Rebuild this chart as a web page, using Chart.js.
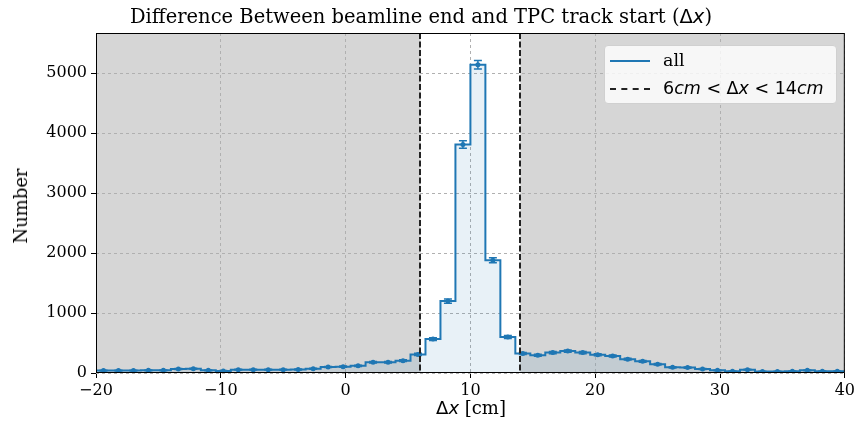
<!DOCTYPE html>
<html>
<head>
<meta charset="utf-8">
<script src="https://cdn.jsdelivr.net/npm/chart.js@4.4.0/dist/chart.umd.min.js"></script>
<style>
    html, body { margin: 0; padding: 0; background: #ffffff; }
    #wrap { position: relative; width: 858px; height: 425px; }
    #chart { position: absolute; left: 0; top: 0; }
    .serif { font-family: 'DejaVu Serif', serif; color: #000; position: absolute; white-space: nowrap; }
    .math { font-family: 'DejaVu Sans', sans-serif; }
    .math i { font-style: italic; }
    #title { left: 0; width: 842px; top: 5px; text-align: center; font-size: 19.5px; line-height: 24px; }
    #xlabel { left: 96px; width: 750px; top: 397px; text-align: center; font-size: 18px; line-height: 22px; }
    #ylabel { left: 21px; top: 206px; font-size: 18px; line-height: 22px; transform: translate(-50%, -50%) rotate(-90deg); }
    #legend {
        position: absolute; left: 604px; top: 45px; width: 233px; height: 59px;
        background: rgba(255, 255, 255, 0.8); border: 1px solid #d0d0d0; border-radius: 4px;
        box-sizing: border-box;
    }
    .row { position: absolute; left: 0; height: 24px; width: 100%; }
    .sample { position: absolute; left: 5px; top: 11px; width: 40px; height: 0; }
    .label { position: absolute; left: 58px; top: 0px; font-size: 17.5px; line-height: 22px; }
</style>
</head>
<body>
<div id="wrap">
    <canvas id="chart" width="858" height="425"></canvas>
    <div id="title" class="serif">Difference Between beamline end and TPC track start (<span class="math">Δ<i>x</i></span>)</div>
    <div id="xlabel" class="serif"><span class="math">Δ<i>x</i></span> [cm]</div>
    <div id="ylabel" class="serif">Number</div>
    <div id="legend">
        <div class="row" style="top: 3px;">
            <div class="sample" style="border-top: 2px solid #1f77b4;"></div>
            <div class="label serif">all</div>
        </div>
        <div class="row" style="top: 31px;">
            <div class="sample" style="border-top: 2px dashed #222;"></div>
            <div class="label math">6<i>cm</i> &lt; Δ<i>x</i> &lt; 14<i>cm</i></div>
        </div>
    </div>
</div>
<script>
(function () {
    'use strict';

    // Histogram binning (cm)
    const BIN_LO = -20;
    const BIN_WIDTH = 1.2;

    // Counts per bin
    const counts = [
        40, 40, 40, 45, 45, 65, 70, 45, 35, 55,
        55, 55, 55, 60, 70, 100, 105, 120, 180, 180,
        205, 310, 565, 1200, 3810, 5140, 1880, 600, 325, 295,
        340, 365, 340, 305, 285, 230, 195, 145, 95, 90,
        65, 45, 30, 55, 25, 25, 30, 45, 30, 30
    ];

    // Error bar half lengths per bin
    const errors = [
        6, 6, 6, 7, 7, 8, 8, 7, 6, 7,
        7, 7, 7, 8, 8, 10, 10, 11, 13, 13,
        14, 18, 24, 35, 62, 72, 43, 24, 18, 17,
        18, 19, 18, 17, 17, 15, 14, 12, 10, 9,
        8, 7, 5, 7, 5, 5, 5, 7, 5, 5
    ];

    // Selection window and axis ticks
    const CUT_LO = 6;
    const CUT_HI = 14;
    const xTicks = [-20, -10, 0, 10, 20, 30, 40];
    const yTicks = [0, 1000, 2000, 3000, 4000, 5000];
    const X_MIN = -20, X_MAX = 40, Y_MAX = 5670;

    const BLUE = '#1f77b4';

    // Step outline: one point per left bin edge, plus the closing right edge
    const stepData = counts.map((c, i) => ({ x: BIN_LO + i * BIN_WIDTH, y: c }));
    stepData.push({ x: BIN_LO + counts.length * BIN_WIDTH, y: counts[counts.length - 1] });

    const centerData = counts.map((c, i) => ({ x: BIN_LO + (i + 0.5) * BIN_WIDTH, y: c }));

    const decorPlugin = {
        id: 'decor',
        beforeDraw(chart) {
            const { ctx, chartArea: a, scales: { x } } = chart;
            ctx.save();
            ctx.fillStyle = '#ffffff';
            ctx.fillRect(0, 0, chart.width, chart.height);
            ctx.fillStyle = '#d6d6d6';
            const x1 = x.getPixelForValue(CUT_LO);
            const x2 = x.getPixelForValue(CUT_HI);
            ctx.fillRect(a.left, a.top, x1 - a.left, a.bottom - a.top);
            ctx.fillRect(x2, a.top, a.right - x2, a.bottom - a.top);
            ctx.restore();
        },
        afterDatasetsDraw(chart) {
            const { ctx, chartArea: a, scales: { x, y } } = chart;
            ctx.save();
            // error bars
            ctx.strokeStyle = BLUE;
            ctx.lineWidth = 1.5;
            centerData.forEach((p, i) => {
                const px = x.getPixelForValue(p.x);
                const yHi = y.getPixelForValue(p.y + errors[i]);
                const yLo = y.getPixelForValue(p.y - errors[i]);
                ctx.beginPath();
                ctx.moveTo(px, yHi);
                ctx.lineTo(px, yLo);
                ctx.moveTo(px - 4, yHi);
                ctx.lineTo(px + 4, yHi);
                ctx.moveTo(px - 4, yLo);
                ctx.lineTo(px + 4, yLo);
                ctx.stroke();
            });
            // selection window lines
            ctx.strokeStyle = '#222222';
            ctx.lineWidth = 2;
            ctx.setLineDash([6, 2.5]);
            [CUT_LO, CUT_HI].forEach(v => {
                const px = Math.round(x.getPixelForValue(v));
                ctx.beginPath();
                ctx.moveTo(px, a.top);
                ctx.lineTo(px, a.bottom);
                ctx.stroke();
            });
            ctx.restore();
        },
        afterDraw(chart) {
            const { ctx, chartArea: a } = chart;
            ctx.save();
            ctx.strokeStyle = '#000000';
            ctx.lineWidth = 1;
            ctx.strokeRect(a.left + 0.5, a.top + 0.5, a.right - a.left - 1, a.bottom - a.top - 1);
            ctx.restore();
        }
    };

    const tickFont = { family: "'DejaVu Serif', serif", size: 16 };

    new Chart(document.getElementById('chart'), {
        type: 'line',
        data: {
            datasets: [
                {
                    label: 'markers',
                    type: 'scatter',
                    data: centerData,
                    pointRadius: 2.5,
                    pointBackgroundColor: BLUE,
                    pointBorderWidth: 0,
                    showLine: false
                },
                {
                    label: 'all',
                    data: stepData,
                    stepped: true,
                    borderColor: BLUE,
                    borderWidth: 2,
                    backgroundColor: 'rgba(31, 119, 180, 0.1)',
                    fill: 'origin',
                    pointRadius: 0
                }
            ]
        },
        options: {
            responsive: false,
            animation: false,
            layout: { padding: { left: 0, right: 12, top: 33, bottom: 0 } },
            plugins: {
                legend: { display: false },
                tooltip: { enabled: false }
            },
            scales: {
                x: {
                    type: 'linear',
                    min: X_MIN,
                    max: X_MAX,
                    afterBuildTicks: s => { s.ticks = xTicks.map(v => ({ value: v })); },
                    afterFit: s => { s.height = 52; },
                    grid: {
                        color: '#b0b0b0',
                        tickColor: '#000000',
                        tickLength: 5,
                        tickBorderDash: []
                    },
                    border: { display: false, dash: [3, 3] },
                    ticks: {
                        color: '#000000',
                        font: tickFont,
                        padding: 3,
                        maxRotation: 0,
                        callback: v => (v < 0 ? '\u2212' + Math.abs(v) : String(v))
                    }
                },
                y: {
                    min: 0,
                    max: Y_MAX,
                    afterBuildTicks: s => { s.ticks = yTicks.map(v => ({ value: v })); },
                    afterFit: s => { s.width = 96; },
                    grid: {
                        color: '#b0b0b0',
                        tickColor: '#000000',
                        tickLength: 5,
                        tickBorderDash: []
                    },
                    border: { display: false, dash: [3, 3] },
                    ticks: {
                        color: '#000000',
                        font: tickFont,
                        padding: 4,
                        callback: v => String(v)
                    }
                }
            }
        },
        plugins: [decorPlugin]
    });
})();
</script>
</body>
</html>
